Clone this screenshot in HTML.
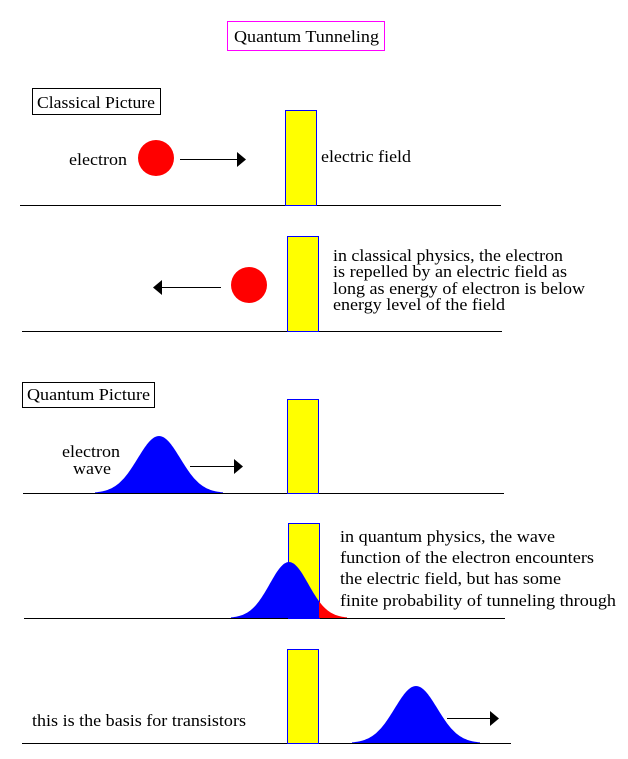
<!DOCTYPE html>
<html><head><meta charset="utf-8"><style>
body{margin:0;background:#fff;width:628px;height:759px;overflow:hidden}
svg{display:block}
text{font-family:"Liberation Serif","DejaVu Serif",serif;font-size:17px;fill:#000}
</style></head><body>
<svg id="s" width="628" height="759" xmlns="http://www.w3.org/2000/svg" font-family="Liberation Serif, serif">
<defs>
<clipPath id="L"><rect x="0" y="0" width="319" height="759"/></clipPath>
<clipPath id="R"><rect x="319" y="0" width="300" height="759"/></clipPath>
</defs>
<rect x="227.5" y="21.5" width="157" height="29" fill="none" stroke="#f0f"/>
<text x="234" y="42" font-size="18" textLength="145" lengthAdjust="spacingAndGlyphs">Quantum Tunneling</text>
<rect x="32.5" y="88.5" width="128" height="26" fill="none" stroke="#000"/>
<text x="37" y="108" font-size="18" textLength="118" lengthAdjust="spacingAndGlyphs">Classical Picture</text>

<line x1="20" y1="205.5" x2="501" y2="205.5" stroke="#000"/>
<rect x="285.5" y="110.5" width="31" height="95" fill="#ff0" stroke="#00f"/>
<text x="69" y="165" textLength="58" lengthAdjust="spacingAndGlyphs">electron</text>
<ellipse cx="156" cy="158" rx="18" ry="18" fill="#f00"/>
<line x1="180" y1="159.5" x2="238" y2="159.5" stroke="#000"/>
<polygon points="237,152 246,159.5 237,167" fill="#000"/>
<text x="321" y="162" textLength="90" lengthAdjust="spacingAndGlyphs">electric field</text>

<line x1="22" y1="331.5" x2="502" y2="331.5" stroke="#000"/>
<rect x="287.5" y="236.5" width="31" height="95" fill="#ff0" stroke="#00f"/>
<ellipse cx="249" cy="285" rx="18" ry="18" fill="#f00"/>
<line x1="160" y1="287.5" x2="221" y2="287.5" stroke="#000"/>
<polygon points="162,280 153,287.5 162,295" fill="#000"/>
<text x="333" y="261" textLength="230" lengthAdjust="spacingAndGlyphs">in classical physics, the electron</text>
<text x="333" y="277" textLength="234" lengthAdjust="spacingAndGlyphs">is repelled by an electric field as</text>
<text x="333" y="294" textLength="252" lengthAdjust="spacingAndGlyphs">long as energy of electron is below</text>
<text x="333" y="310" textLength="172" lengthAdjust="spacingAndGlyphs">energy level of the field</text>

<rect x="22.5" y="382.5" width="132" height="25" fill="none" stroke="#000"/>
<text x="27" y="400" font-size="18" textLength="123" lengthAdjust="spacingAndGlyphs">Quantum Picture</text>

<line x1="23" y1="493.5" x2="504" y2="493.5" stroke="#000"/>
<rect x="287.5" y="399.5" width="31" height="94" fill="#ff0" stroke="#00f"/>
<path id="g1" fill="#00f"/>
<text x="62" y="457" textLength="58" lengthAdjust="spacingAndGlyphs">electron</text>
<text x="73" y="474" textLength="38" lengthAdjust="spacingAndGlyphs">wave</text>
<line x1="190" y1="466.5" x2="235" y2="466.5" stroke="#000"/>
<polygon points="234,459 243,466.5 234,474" fill="#000"/>

<line x1="24" y1="618.5" x2="505" y2="618.5" stroke="#000"/>
<rect x="288.5" y="523.5" width="31" height="95" fill="#ff0" stroke="#00f"/>
<path id="g2" fill="#00f" clip-path="url(#L)"/>
<path id="g3" fill="#f00" clip-path="url(#R)"/>
<text x="340" y="542" textLength="215" lengthAdjust="spacingAndGlyphs">in quantum physics, the wave</text>
<text x="340" y="563" textLength="254" lengthAdjust="spacingAndGlyphs">function of the electron encounters</text>
<text x="340" y="584" textLength="221" lengthAdjust="spacingAndGlyphs">the electric field, but has some</text>
<text x="340" y="606" textLength="276" lengthAdjust="spacingAndGlyphs">finite probability of tunneling through</text>

<line x1="22" y1="743.5" x2="511" y2="743.5" stroke="#000"/>
<rect x="287.5" y="649.5" width="31" height="94" fill="#ff0" stroke="#00f"/>
<path id="g4" fill="#00f"/>
<text x="32" y="726" textLength="214" lengthAdjust="spacingAndGlyphs">this is the basis for transistors</text>
<line x1="447" y1="718.5" x2="491" y2="718.5" stroke="#000"/>
<polygon points="490,711 499,718.5 490,726" fill="#000"/>
</svg>
<script>
function g(cx,base,h,half){var s=half/3,d="M"+(cx-half)+","+base;
for(var x=cx-half;x<=cx+half;x+=1){var y=base-h*Math.exp(-((x-cx)*(x-cx))/(2*s*s));d+=" L"+x+","+y.toFixed(1);}
return d+" L"+(cx+half)+","+base+"Z";}
document.getElementById("g1").setAttribute("d",g(159,493,57,64));
var d2=g(289,618,56,58);
document.getElementById("g2").setAttribute("d",d2);
document.getElementById("g3").setAttribute("d",d2);
document.getElementById("g4").setAttribute("d",g(416,743,57,64));
</script>
</body></html>
